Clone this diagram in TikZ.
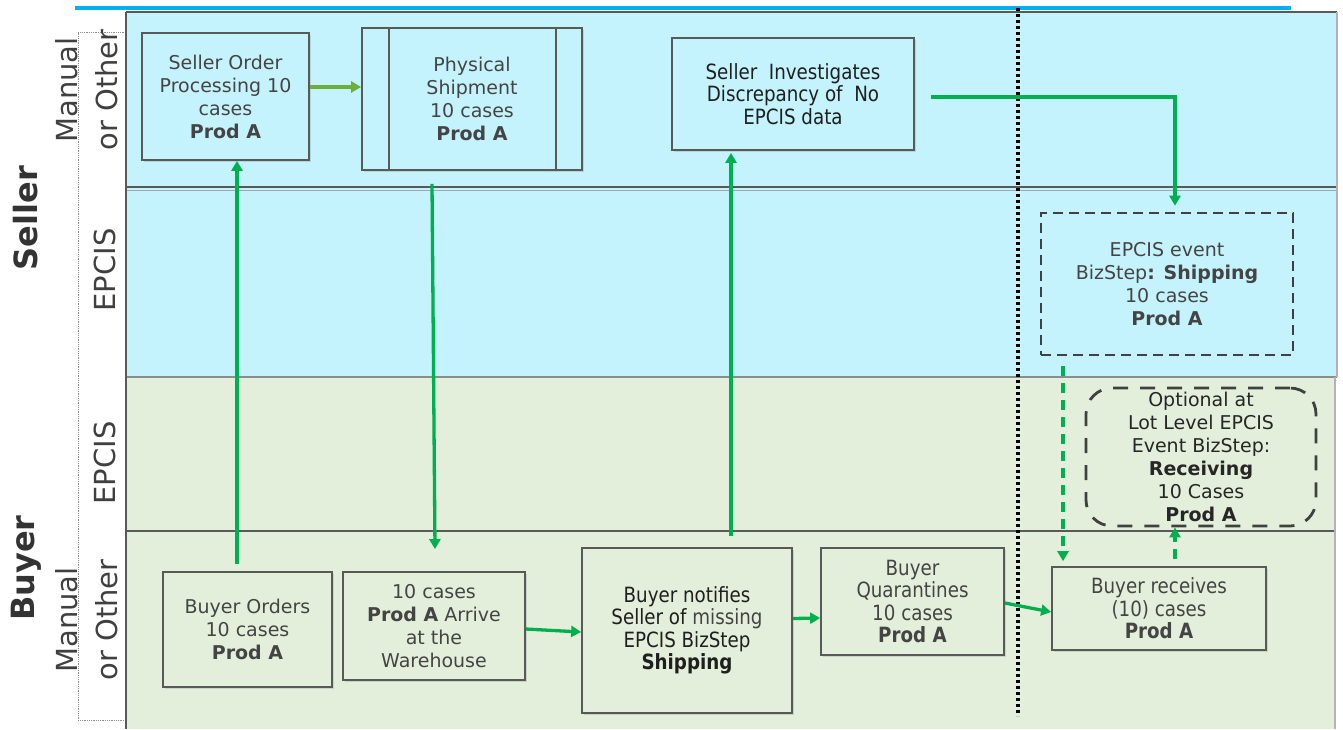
\documentclass[tikz,border=0pt]{standalone}
\usepackage{fontspec}
\setmainfont{DejaVu Sans}
\newfontfamily\narrowfont{DejaVu Sans}[FakeStretch=0.87]
\usetikzlibrary{arrows.meta,shadows,calc}
\definecolor{cyanbg}{HTML}{C5F3FD}
\definecolor{greenbg}{HTML}{E3EFDA}
\definecolor{arrowgreen}{HTML}{00B050}
\definecolor{lightgreen}{HTML}{6DAF3C}
\definecolor{boxline}{HTML}{595959}
\definecolor{txtgray}{HTML}{444444}
\definecolor{topcyan}{HTML}{00B0F0}
\tikzset{
  procbox/.style={draw=boxline, line width=1.7pt, align=center, inner sep=0pt,
    font=\fontsize{19}{23}\selectfont, text=txtgray,
    drop shadow={shadow xshift=2pt, shadow yshift=-2pt, opacity=0.25}},
  narrowbox/.style={procbox, font=\narrowfont\fontsize{21}{22.5}\selectfont, text=black!88},
  eventbox/.style={draw=black!75, line width=2.6pt, dash pattern=on 10pt off 6pt,
    align=center, inner sep=0pt, font=\fontsize{19}{23}\selectfont, text=txtgray},
  optbox/.style={draw=black!75, line width=2.8pt, dash pattern=on 15pt off 12pt,
    rounded corners=26pt, align=center, inner sep=0pt, font=\fontsize{19}{23}\selectfont, text=black!85},
  arr/.style={draw=arrowgreen, line width=3.3pt, -{Triangle[width=11pt,length=10pt]}},
  dasharr/.style={arr, dash pattern=on 10pt off 7pt},
  lanelabel/.style={rotate=90, align=center, font=\fontsize{29}{40}\selectfont, text=black!75},
  partylabel/.style={rotate=90, font=\bfseries\fontsize{32}{36}\selectfont, text=black!80},
}
\begin{document}
\begin{tikzpicture}[x=1pt,y=-1pt]
\useasboundingbox (0,0) rectangle (1343,729);
% lane backgrounds
\fill[cyanbg] (126,12) rectangle (1337,377);
\fill[greenbg] (126,377) rectangle (1335,729);
\draw[topcyan, line width=3.5pt] (75,8) -- (1291,8);
\draw[boxline, line width=1.8pt] (126,12) -- (1337,12);
\draw[boxline, line width=1.8pt] (126,187) -- (1337,187);
\draw[black!35, line width=1.3pt] (126,190.5) -- (1337,190.5);
\draw[black!45, line width=1.3pt] (126,377) -- (1337,377);
\draw[boxline, line width=1.8pt] (126,531) -- (1335,531);
\draw[black!30, line width=1.3pt] (1337,12) -- (1337,377);
\draw[black!30, line width=1.3pt] (1335,377) -- (1335,729);
\draw[black!45, densely dotted, line width=0.8pt] (126,32) -- (78,32) -- (78,720) -- (126,720);
\draw[boxline, line width=1.8pt] (126,12) -- (126,729);
% separator
\draw[black, line width=3.5pt, dash pattern=on 3pt off 3pt] (1018,8) -- (1018,716);
% labels
\node[partylabel] (seller) at (26,218) {Seller};
\node[partylabel] (buyer) at (26,568) {Buyer};
\node[lanelabel] (lm1) at (87,90) {Manual\\or Other};
\node[lanelabel] (le1) at (105,270) {EPCIS};
\node[lanelabel] (le2) at (105,463) {EPCIS};
\node[lanelabel] (lm2) at (87,620) {Manual\\or Other};
% seller boxes
\node[procbox, fill=cyanbg, minimum width=167pt, minimum height=127pt] (so) at (225.5,96.5)
  {Seller Order\\Processing 10\\cases\\\textbf{Prod A}};
\node[procbox, fill=cyanbg, minimum width=220pt, minimum height=142pt] (ps) at (472,99)
  {Physical\\Shipment\\10 cases\\\textbf{Prod A}};
\draw[boxline, line width=1.7pt] ([xshift=28pt]ps.north west) -- ([xshift=28pt]ps.south west);
\draw[boxline, line width=1.7pt] ([xshift=-27pt]ps.north east) -- ([xshift=-27pt]ps.south east);
\node[narrowbox, fill=cyanbg, minimum width=242pt, minimum height=112pt] (si) at (793,94)
  {Seller~ Investigates\\Discrepancy of~ No\\EPCIS data};
\node[eventbox, minimum width=252pt, minimum height=142pt] (ee) at (1167,284)
  {EPCIS event\\BizStep\textbf{: Shipping}\\10 cases\\\textbf{Prod A}};
\node[optbox, minimum width=230pt, minimum height=138pt] (op) at (1201,457)
  {Optional at\\Lot Level EPCIS\\Event BizStep:\\\textbf{Receiving}\\10 Cases\\\textbf{Prod A}};
% buyer boxes
\node[procbox, fill=greenbg, minimum width=169pt, minimum height=115pt] (bo) at (247.5,629.5)
  {Buyer Orders\\10 cases\\\textbf{Prod A}};
\node[procbox, fill=greenbg, minimum width=182pt, minimum height=108pt] (ar) at (434,626)
  {10 cases\\\textbf{Prod A} Arrive\\at the\\Warehouse};
\node[narrowbox, fill=greenbg, minimum width=210pt, minimum height=165pt] (bn) at (687,630.5)
  {Buyer notifies\\Seller of {\color{txtgray}missing}\\EPCIS BizStep\\\textbf{Shipping}};
\node[narrowbox, fill=greenbg, text=txtgray, minimum width=183pt, minimum height=107pt] (qu) at (912.5,601.5)
  {Buyer\\Quarantines\\10 cases\\\textbf{Prod A}};
\node[narrowbox, fill=greenbg, text=txtgray, minimum width=214pt, minimum height=83pt] (br) at (1159,608.5)
  {Buyer receives\\(10) cases\\\textbf{Prod A}};
% connectors
\draw[arr, draw=lightgreen] ([yshift=9.5pt]so.east) -- ([yshift=12pt]ps.west);
\draw[arr] ([xshift=-10.5pt,yshift=7pt]bo.north) -- ([xshift=11.5pt]so.south);
\draw[arr] ([xshift=-40pt,yshift=-13pt]ps.south) -- ([xshift=1pt,yshift=22pt]ar.north);
\draw[arr] ([yshift=-3pt]ar.east) -- ([yshift=-1.5pt]bn.west);
\draw[arr] ([xshift=44pt,yshift=11pt]bn.north) -- ([xshift=-62pt,yshift=-2pt]si.south);
\draw[arr] ([xshift=16pt,yshift=-3pt]si.east) -| ([xshift=8pt,yshift=6pt]ee.north);
\draw[arr] ([yshift=12pt]bn.east) -- ([yshift=-16.5pt]qu.west);
\draw[arr] ([yshift=-1.5pt]qu.east) -- ([yshift=-3.5pt]br.west);
\draw[dasharr] ([xshift=-104pt,yshift=-10pt]ee.south) -- ([xshift=-96pt,yshift=5pt]br.north);
\draw[dasharr] ([xshift=16pt,yshift=7pt]br.north) -- ([xshift=-26pt]op.south);
\end{tikzpicture}
\end{document}
